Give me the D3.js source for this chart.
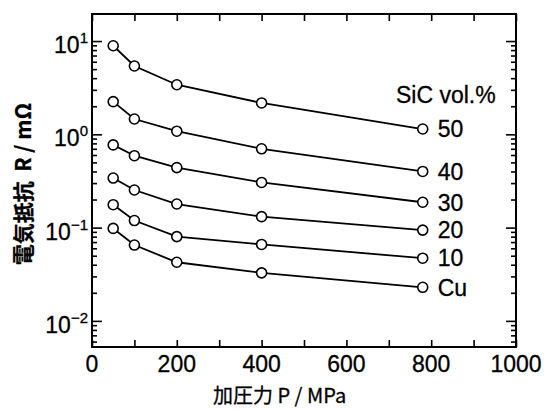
<!DOCTYPE html>
<html>
<head>
<meta charset="utf-8">
<script src="https://cdn.jsdelivr.net/npm/d3@7"></script>
<style>
  body { margin: 0; background: #fff; }
  svg { display: block; }
  text { font-family: "Liberation Sans", Arial, sans-serif; fill: #000; stroke: #000; stroke-width: 0.3; }
  .cjk { font-family: "Noto Sans CJK JP", "Liberation Sans", sans-serif; }
</style>
</head>
<body>
<div id="chart"></div>
<script>
// pressure (MPa) and resistance (mOhm)
var pressures = [50, 100, 200, 400, 780];
var sic50 = [8.9, 5.4, 3.4, 2.17, 1.14];
var sic40 = [2.24, 1.46, 1.08, 0.70, 0.40];
var sic30 = [0.77, 0.59, 0.44, 0.305, 0.187];
var sic20 = [0.34, 0.253, 0.179, 0.131, 0.094];
var sic10 = [0.176, 0.119, 0.080, 0.066, 0.047];
var cu = [0.098, 0.065, 0.0425, 0.0327, 0.0229];
var seriesLabels = ["50", "40", "30", "20", "10", "Cu"];
var xTicks = [0, 200, 400, 600, 800, 1000];
var yDecades = [10, 1, 0.1, 0.01];
var yExponents = ["1", "0", "\u22121", "\u22122"];

var allSeries = [sic50, sic40, sic30, sic20, sic10, cu];

var W = 544, H = 410;
var margin = {left: 92, top: 14, right: 28, bottom: 63};
var width = W - margin.left - margin.right;
var height = H - margin.top - margin.bottom;

var svg = d3.select("#chart").append("svg").attr("width", W).attr("height", H);
var g = svg.append("g").attr("transform", "translate(" + margin.left + "," + margin.top + ")");

var x = d3.scaleLinear().domain([0, 1000]).range([0, width]);
var y = d3.scaleLog().domain([Math.pow(10, -2.28), Math.pow(10, 1.29)]).range([height, 0]);

// minor ticks, every 2..9 of each decade
var minor = y.ticks().filter(function(d) {
  var m = d / Math.pow(10, Math.floor(Math.log10(d) + 1e-9));
  return Math.abs(m - 1) > 1e-6;
});

function styleAxis(sel) {
  sel.select(".domain").remove();
  sel.selectAll(".tick line").attr("stroke", "#000").attr("stroke-width", 1.6);
  sel.selectAll(".tick text").remove();
}

// left axis
g.append("g").call(d3.axisLeft(y).tickValues(yDecades).tickSize(-10)).call(styleAxis);
g.append("g").call(d3.axisLeft(y).tickValues(minor).tickSize(-5)).call(styleAxis);
// right axis
g.append("g").attr("transform", "translate(" + width + ",0)")
  .call(d3.axisRight(y).tickValues(yDecades).tickSize(-10)).call(styleAxis);
g.append("g").attr("transform", "translate(" + width + ",0)")
  .call(d3.axisRight(y).tickValues(minor).tickSize(-5)).call(styleAxis);
// bottom / top ticks every 100
g.append("g").attr("transform", "translate(0," + height + ")")
  .call(d3.axisBottom(x).ticks(10).tickSize(-7)).call(styleAxis);
g.append("g").call(d3.axisTop(x).ticks(10).tickSize(-7)).call(styleAxis);

// frame
g.append("rect").attr("width", width).attr("height", height)
  .attr("fill", "none").attr("stroke", "#000").attr("stroke-width", 2);

// x tick labels
g.selectAll(".xlab").data(xTicks).enter().append("text")
  .attr("x", function(d) { return x(d); })
  .attr("y", height + 25)
  .attr("text-anchor", "middle")
  .attr("font-size", 23)
  .text(function(d) { return d; });

// y tick labels 10^n
var ylab = g.selectAll(".ylab").data(yDecades).enter().append("text")
  .attr("x", -4)
  .attr("y", function(d) { return y(d) + 12; })
  .attr("text-anchor", "end")
  .attr("font-size", 23);
ylab.append("tspan").text("10");
ylab.append("tspan").attr("dy", -10).attr("font-size", 15)
  .text(function(d, i) { return yExponents[i]; });

// lines and markers
var line = d3.line()
  .x(function(d, i) { return x(pressures[i]); })
  .y(function(d) { return y(d); });

allSeries.forEach(function(s, k) {
  g.append("path").datum(s).attr("d", line)
    .attr("fill", "none").attr("stroke", "#000").attr("stroke-width", 1.8);
  g.selectAll(".pt" + k).data(s).enter().append("circle")
    .attr("cx", function(d, i) { return x(pressures[i]); })
    .attr("cy", function(d) { return y(d); })
    .attr("r", 5)
    .attr("fill", "#fff").attr("stroke", "#000").attr("stroke-width", 1.6);
  g.append("text")
    .attr("x", x(pressures[pressures.length - 1]) + 15)
    .attr("y", y(s[s.length - 1]))
    .attr("dy", "0.36em")
    .attr("font-size", 23)
    .text(seriesLabels[k]);
});

// legend header
g.append("text").attr("x", 304).attr("y", 89)
  .attr("font-size", 23).text("SiC vol.%");

// axis titles
svg.append("text").attr("class", "cjk")
  .attr("x", 213).attr("y", 403)
  .attr("font-size", 20)
  .attr("xml:space", "preserve")
  .text("加圧力 P / MPa");

svg.append("text").attr("class", "cjk")
  .attr("transform", "translate(31,184) rotate(-90)")
  .attr("text-anchor", "middle")
  .attr("font-size", 21)
  .attr("font-weight", "bold")
  .attr("xml:space", "preserve")
  .text("電気抵抗  R / mΩ");
</script>
</body>
</html>
